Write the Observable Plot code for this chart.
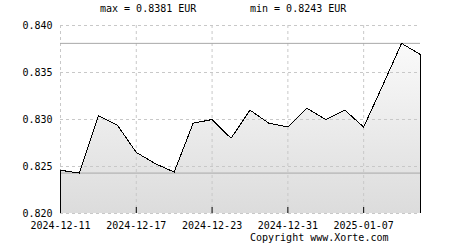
<!DOCTYPE html>
<html>
<head>
<meta charset="utf-8">
<script src="https://cdn.jsdelivr.net/npm/d3@7"></script>
<script src="https://cdn.jsdelivr.net/npm/@observablehq/plot@0.6"></script>
<style>
  html, body { margin: 0; padding: 0; background: #fff; }
  #wrap { position: relative; width: 450px; height: 250px; overflow: hidden; font-family: "DejaVu Sans Mono", monospace; font-size: 10px; color: #000; }
  .lbl { position: absolute; line-height: 10px; white-space: pre; }
  #wrap svg { position: absolute; left: 0; top: 0; }
</style>
</head>
<body>
<div id="wrap"></div>
<script>
// ---- data ----
const dates = ["2024-12-11","2024-12-12","2024-12-13","2024-12-16","2024-12-17","2024-12-18","2024-12-19","2024-12-20",
               "2024-12-23","2024-12-24","2024-12-27","2024-12-30","2024-12-31","2025-01-02","2025-01-03","2025-01-06",
               "2025-01-07","2025-01-08","2025-01-09","2025-01-10"];
const rates = [0.8246, 0.8243, 0.8304, 0.8294, 0.8265, 0.8253, 0.8244, 0.8296,
               0.8300, 0.8280, 0.8310, 0.8296, 0.8292, 0.8312, 0.8300, 0.8310,
               0.8292, 0.8336, 0.8381, 0.8369];
const xTicks = ["2024-12-11","2024-12-17","2024-12-23","2024-12-31","2025-01-07"];
const tickMarks = ["2024-12-17","2024-12-23","2024-12-31","2025-01-07","2025-01-10"];
const yTicks = [0.820, 0.825, 0.830, 0.835, 0.840];
const yDomain = [0.820, 0.840];
const currency = "EUR";
const copyright = "Copyright www.Xorte.com";

// trading-day index scale: each record is placed at its position in the date list
const idx = d => dates.indexOf(d);
const data = dates.map((d, i) => ({i, date: d, value: rates[i]}));
const maxV = d3.max(rates), minV = d3.min(rates);
const ends = [data[0], data[data.length - 1]];

const defs = () => {
  const g = d3.create("svg:defs");
  const lg = g.append("linearGradient").attr("id", "areaGrad").attr("x1", 0).attr("y1", 0).attr("x2", 0).attr("y2", 1);
  lg.append("stop").attr("offset", "0%").attr("stop-color", "#fafafa");
  lg.append("stop").attr("offset", "100%").attr("stop-color", "#dcdcdc");
  return g.node();
};

const chart = Plot.plot({
  width: 450,
  height: 250,
  marginTop: 25,
  marginBottom: 37,
  marginLeft: 60,
  marginRight: 30,
  style: {fontFamily: "DejaVu Sans Mono, monospace", fontSize: "10px", color: "#000", background: "transparent"},
  x: {type: "linear", domain: [0, dates.length - 1]},
  y: {domain: yDomain},
  marks: [
    defs,
    Plot.areaY(data, {x: "i", y1: yDomain[0], y2: "value", fill: "url(#areaGrad)"}),
    Plot.gridY(yTicks, {stroke: "#c8c8c8", strokeOpacity: 1, strokeDasharray: "3,3"}),
    Plot.gridX(xTicks.map(idx), {stroke: "#c8c8c8", strokeOpacity: 1, strokeDasharray: "3,3"}),
    Plot.ruleY([maxV, minV], {stroke: "#a8a8a8"}),
    Plot.line(data, {x: "i", y: "value", stroke: "#000", strokeWidth: 1, shapeRendering: "crispEdges"}),
    Plot.ruleX(ends, {x: "i", y1: yDomain[0], y2: "value", stroke: "#000"}),
    Plot.ruleX(tickMarks.map(idx), {x: d => d, y1: yDomain[0], y2: yDomain[0], insetTop: -6, stroke: "#000"}),
    Plot.axisY(yTicks, {tickSize: 0, tickPadding: 8, tickFormat: d3.format(".3f"), label: null}),
    Plot.axisX(xTicks.map(idx), {tickSize: 0, tickPadding: 8, tickFormat: i => dates[i], label: null})
  ]
});

const wrap = document.getElementById("wrap");
wrap.appendChild(chart);

const addLabel = (text, left, top) => {
  const d = document.createElement("div");
  d.className = "lbl";
  d.textContent = text;
  d.style.left = left + "px";
  d.style.top = top + "px";
  wrap.appendChild(d);
};
addLabel(`max = ${maxV.toFixed(4)} ${currency}`, 100, 4);
addLabel(`min = ${minV.toFixed(4)} ${currency}`, 250, 4);
addLabel(copyright, 250, 232.5);
</script>
</body>
</html>
